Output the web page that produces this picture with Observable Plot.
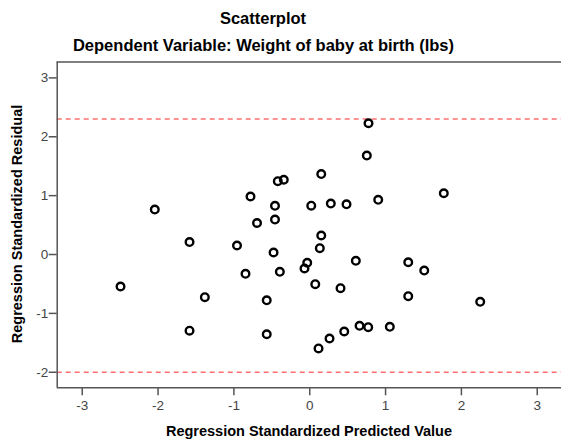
<!DOCTYPE html>
<html><head><meta charset="utf-8">
<script src="https://cdn.jsdelivr.net/npm/d3@7"></script>
<script src="https://cdn.jsdelivr.net/npm/@observablehq/plot@0.6"></script>
<style>body{margin:0;background:#fff} svg{display:block}</style>
</head><body><div id="chart"></div>
<script>
const predicted = [-2.043,-0.781,-0.695,-0.458,-0.458,-0.421,-0.342,0.152,0.775,0.753,0.020,0.278,0.485,0.903,1.768,
  -2.495,-1.585,-0.959,-0.477,-0.847,-0.394,-1.383,-0.567,-1.585,-0.567,-0.069,0.152,0.133,-0.033,0.608,1.299,1.510,
  0.073,0.406,1.299,2.248,0.657,0.771,1.056,0.455,0.261,0.116];
const residual = [0.764,0.985,0.535,0.827,0.594,1.245,1.270,1.367,2.230,1.681,0.829,0.866,0.853,0.929,1.041,
  -0.543,0.212,0.153,0.034,-0.328,-0.294,-0.725,-0.778,-1.294,-1.354,-0.238,0.323,0.107,-0.141,-0.107,-0.131,-0.272,
  -0.504,-0.572,-0.708,-0.803,-1.211,-1.235,-1.228,-1.308,-1.427,-1.596];
const refLines = [2.30, -2.0];
const xTicks = [-3,-2,-1,0,1,2,3];
const yTicks = [-2,-1,0,1,2,3];
const xDomain = [-3.33, 3.32];
const yDomain = [-2.264, 3.27];
const title = "Scatterplot";
const subtitle = "Dependent Variable: Weight of baby at birth (lbs)";
const xLabel = "Regression Standardized Predicted Value";
const yLabel = "Regression Standardized Residual";

const data = predicted.map((x, i) => ({x, y: residual[i]}));
const axisColor = "#555";
const fmt = d => String(d);
const plot = Plot.plot({
  width: 561, height: 441,
  marginTop: 61.5, marginBottom: 53.7, marginLeft: 56.7, marginRight: 0,
  style: {fontFamily: "'Liberation Sans', Arial, sans-serif", background: "#fff"},
  x: {domain: xDomain},
  y: {domain: yDomain},
  marks: [
    Plot.ruleY(refLines, {stroke: "#ff6f6f", strokeDasharray: "5,4", strokeWidth: 1.5}),
    Plot.ruleX([xDomain[0]], {stroke: axisColor, strokeWidth: 1.5}),
    Plot.ruleY(yDomain, {stroke: axisColor, strokeWidth: 1.5}),
    Plot.axisX(xTicks, {tickSize: 8, tickPadding: 5, fontSize: 13.5, fill: "#444", stroke: axisColor, strokeWidth: 1.5, label: null, tickFormat: fmt}),
    Plot.axisY(yTicks, {tickSize: 8, tickPadding: 1, fontSize: 13.5, fill: "#444", stroke: axisColor, strokeWidth: 1.5, label: null, tickFormat: fmt}),
    Plot.dot(data, {x: "x", y: "y", r: 3.8, stroke: "#000", strokeWidth: 2.4, fill: "none"})
  ]
});
const svg = d3.select(plot);
const font = "'Liberation Sans', Arial, sans-serif";
svg.append("text").attr("x", 263).attr("y", 24).attr("text-anchor", "middle")
  .attr("font-family", font).attr("font-weight", "bold").attr("font-size", 16.5).attr("fill", "#000").text(title);
svg.append("text").attr("x", 263.5).attr("y", 50.5).attr("text-anchor", "middle")
  .attr("font-family", font).attr("font-weight", "bold").attr("font-size", 16.5).attr("fill", "#000").text(subtitle);
svg.append("text").attr("x", 309).attr("y", 435.5).attr("text-anchor", "middle")
  .attr("font-family", font).attr("font-weight", "bold").attr("font-size", 14.5).attr("fill", "#000").text(xLabel);
svg.append("text").attr("transform", "translate(22,224) rotate(-90)").attr("text-anchor", "middle")
  .attr("font-family", font).attr("font-weight", "bold").attr("font-size", 14.5).attr("fill", "#000").text(yLabel);
document.getElementById("chart").appendChild(plot);
</script>
</body></html>
